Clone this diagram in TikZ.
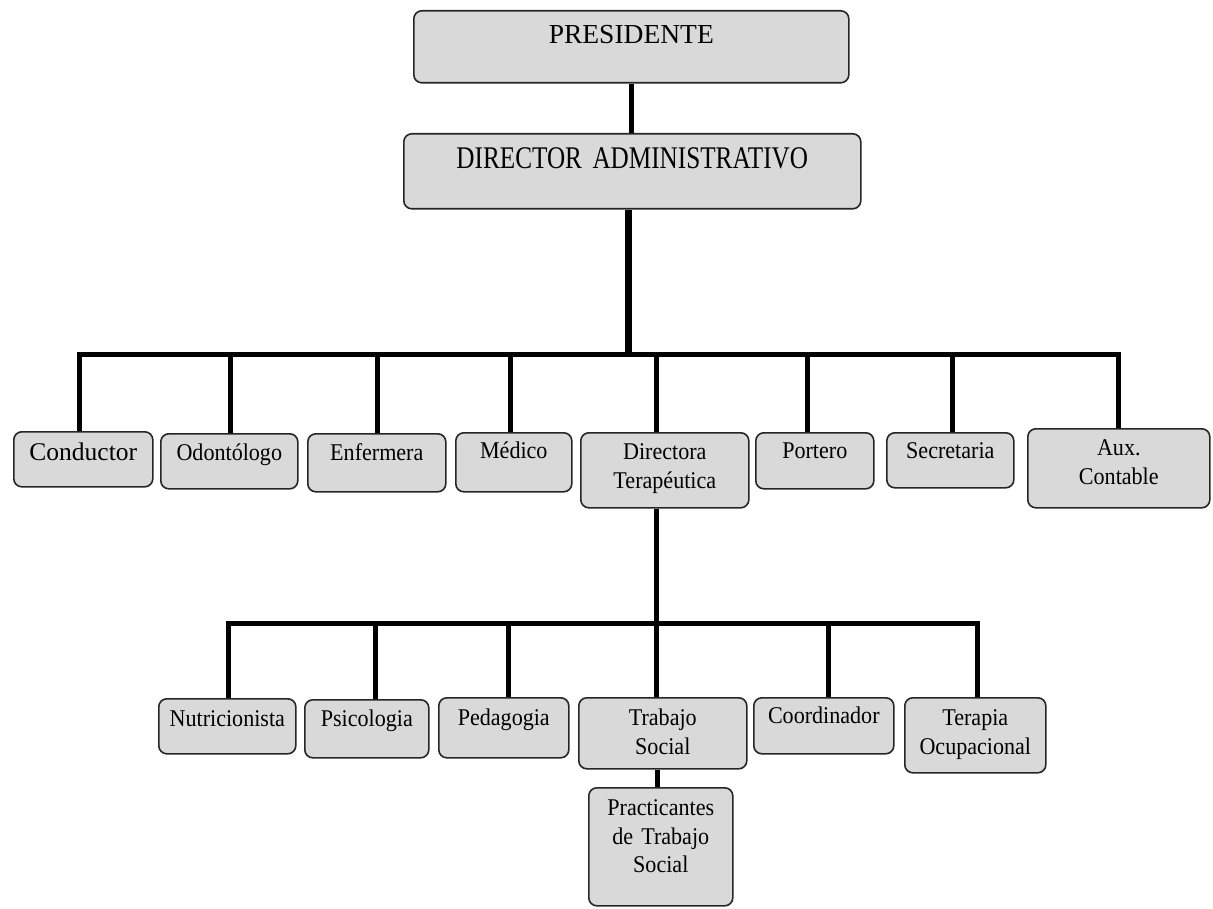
\documentclass[tikz,border=0pt]{standalone}
\usepackage{fontspec}
\setmainfont{Liberation Serif}
\newfontfamily\condfont[FakeStretch=0.8, WordSpace=0.6]{Liberation Serif}
\newfontfamily\boxfont[FakeStretch=0.92]{Liberation Serif}
\definecolor{boxgray}{HTML}{D9D9D9}
\tikzset{
  box/.style={draw=black!85, line width=1.6pt, fill=boxgray, rounded corners=8pt,
    inner sep=0pt, align=center, anchor=north west,
    font=\boxfont\fontsize{24}{28.5}\selectfont},
  link/.style={line width=5pt, black},
  mainlink/.style={line width=7pt, black},
  bar/.style={line width=5pt, black, line cap=rect},
}
\begin{document}
\begin{tikzpicture}[x=1pt,y=-1pt]
\useasboundingbox (0,0) rectangle (1213,909);
% top levels
\node[box, text width=435pt, text height=33pt, text depth=39pt,
      font=\rmfamily\fontsize{27.5}{32}\selectfont] (pres) at (413,10) {PRESIDENTE};
\node[box, text width=457pt, text height=35pt, text depth=40pt,
      font=\condfont\fontsize{31.5}{36}\selectfont] (dir) at (403,133) {DIRECTOR ADMINISTRATIVO};
% first row
\node[box, text width=139pt, text height=29pt, text depth=26pt,
      font=\rmfamily\fontsize{25.5}{30}\selectfont] (cond) at (13,431) {Conductor};
\node[box, text width=137pt, text height=27pt, text depth=28pt] (odon) at (160,433) {Odontólogo};
\node[box, text width=138pt, text height=27pt, text depth=31pt] (enf) at (307,433) {Enfermera};
\node[box, text width=116pt, text height=26pt, text depth=33pt] (med) at (455,432) {Médico};
\node[box, text width=168pt, text height=27pt, text depth=48pt] (dirt) at (580,432) {Directora\\Terapéutica};
\node[box, text width=118pt, text height=26pt, text depth=30pt] (port) at (755,432) {Portero};
\node[box, text width=127pt, text height=26pt, text depth=29pt] (secr) at (886,432) {Secretaria};
\node[box, text width=182pt, text height=27pt, text depth=52pt] (aux) at (1027,428) {Aux.\\Contable};
% second row
\node[box, text width=137pt, text height=28pt, text depth=27pt] (nutr) at (158,698) {Nutricionista};
\node[box, text width=124pt, text height=27pt, text depth=31pt] (psic) at (304,699) {Psicologia};
\node[box, text width=130pt, text height=28pt, text depth=32pt] (peda) at (438,697) {Pedagogia};
\node[box, text width=168pt, text height=28pt, text depth=43pt] (trab) at (578,697) {Trabajo\\Social};
\node[box, text width=140pt, text height=26pt, text depth=30pt] (coor) at (753,697) {Coordinador};
\node[box, text width=141pt, text height=28pt, text depth=47pt] (tera) at (904,697) {Terapia\\Ocupacional};
% third level
\node[box, text width=144pt, text height=28pt, text depth=90pt] (prac) at (588,787) {Practicantes\\de Trabajo\\Social};

% junction coordinates
\coordinate (bar1) at (628,354);
\coordinate (bar2) at (656,623);
\coordinate (dir-b) at ([xshift=-3.5pt]dir.south);
\coordinate (cond-t) at ([xshift=-3.5pt]cond.north);
\coordinate (odon-t) at ([xshift=1.5pt]odon.north);
\coordinate (enf-t) at ([xshift=1pt]enf.north);
\coordinate (med-t) at ([xshift=-3pt]med.north);
\coordinate (dirt-t) at ([xshift=-8pt]dirt.north);
\coordinate (dirt-b) at ([xshift=-8pt]dirt.south);
\coordinate (port-t) at ([xshift=-7pt]port.north);
\coordinate (secr-t) at ([xshift=2.5pt]secr.north);
\coordinate (aux-t) at (aux.north);
\coordinate (nutr-t) at ([xshift=1.5pt]nutr.north);
\coordinate (psic-t) at ([xshift=9pt]psic.north);
\coordinate (peda-t) at ([xshift=5pt]peda.north);
\coordinate (trab-t) at ([xshift=-6pt]trab.north);
\coordinate (trab-b) at ([xshift=-5pt]trab.south);
\coordinate (coor-t) at ([xshift=5pt]coor.north);
\coordinate (tera-t) at ([xshift=2.5pt]tera.north);

% connectors
\draw[link] (pres.south) -- (pres.south |- dir.north);
\draw[mainlink] (dir-b) -- (dir-b |- bar1);
\draw[bar] (cond-t |- bar1) -- (aux-t |- bar1);
\foreach \n in {cond,odon,enf,med,dirt,port,secr,aux}
  \draw[link] (\n-t |- bar1) -- (\n-t);
\draw[link] (dirt-b) -- (dirt-b |- bar2);
\draw[bar] (nutr-t |- bar2) -- (tera-t |- bar2);
\foreach \n in {nutr,psic,peda,trab,coor,tera}
  \draw[link] (\n-t |- bar2) -- (\n-t);
\draw[link] (trab-b) -- (trab-b |- prac.north);
\end{tikzpicture}
\end{document}
